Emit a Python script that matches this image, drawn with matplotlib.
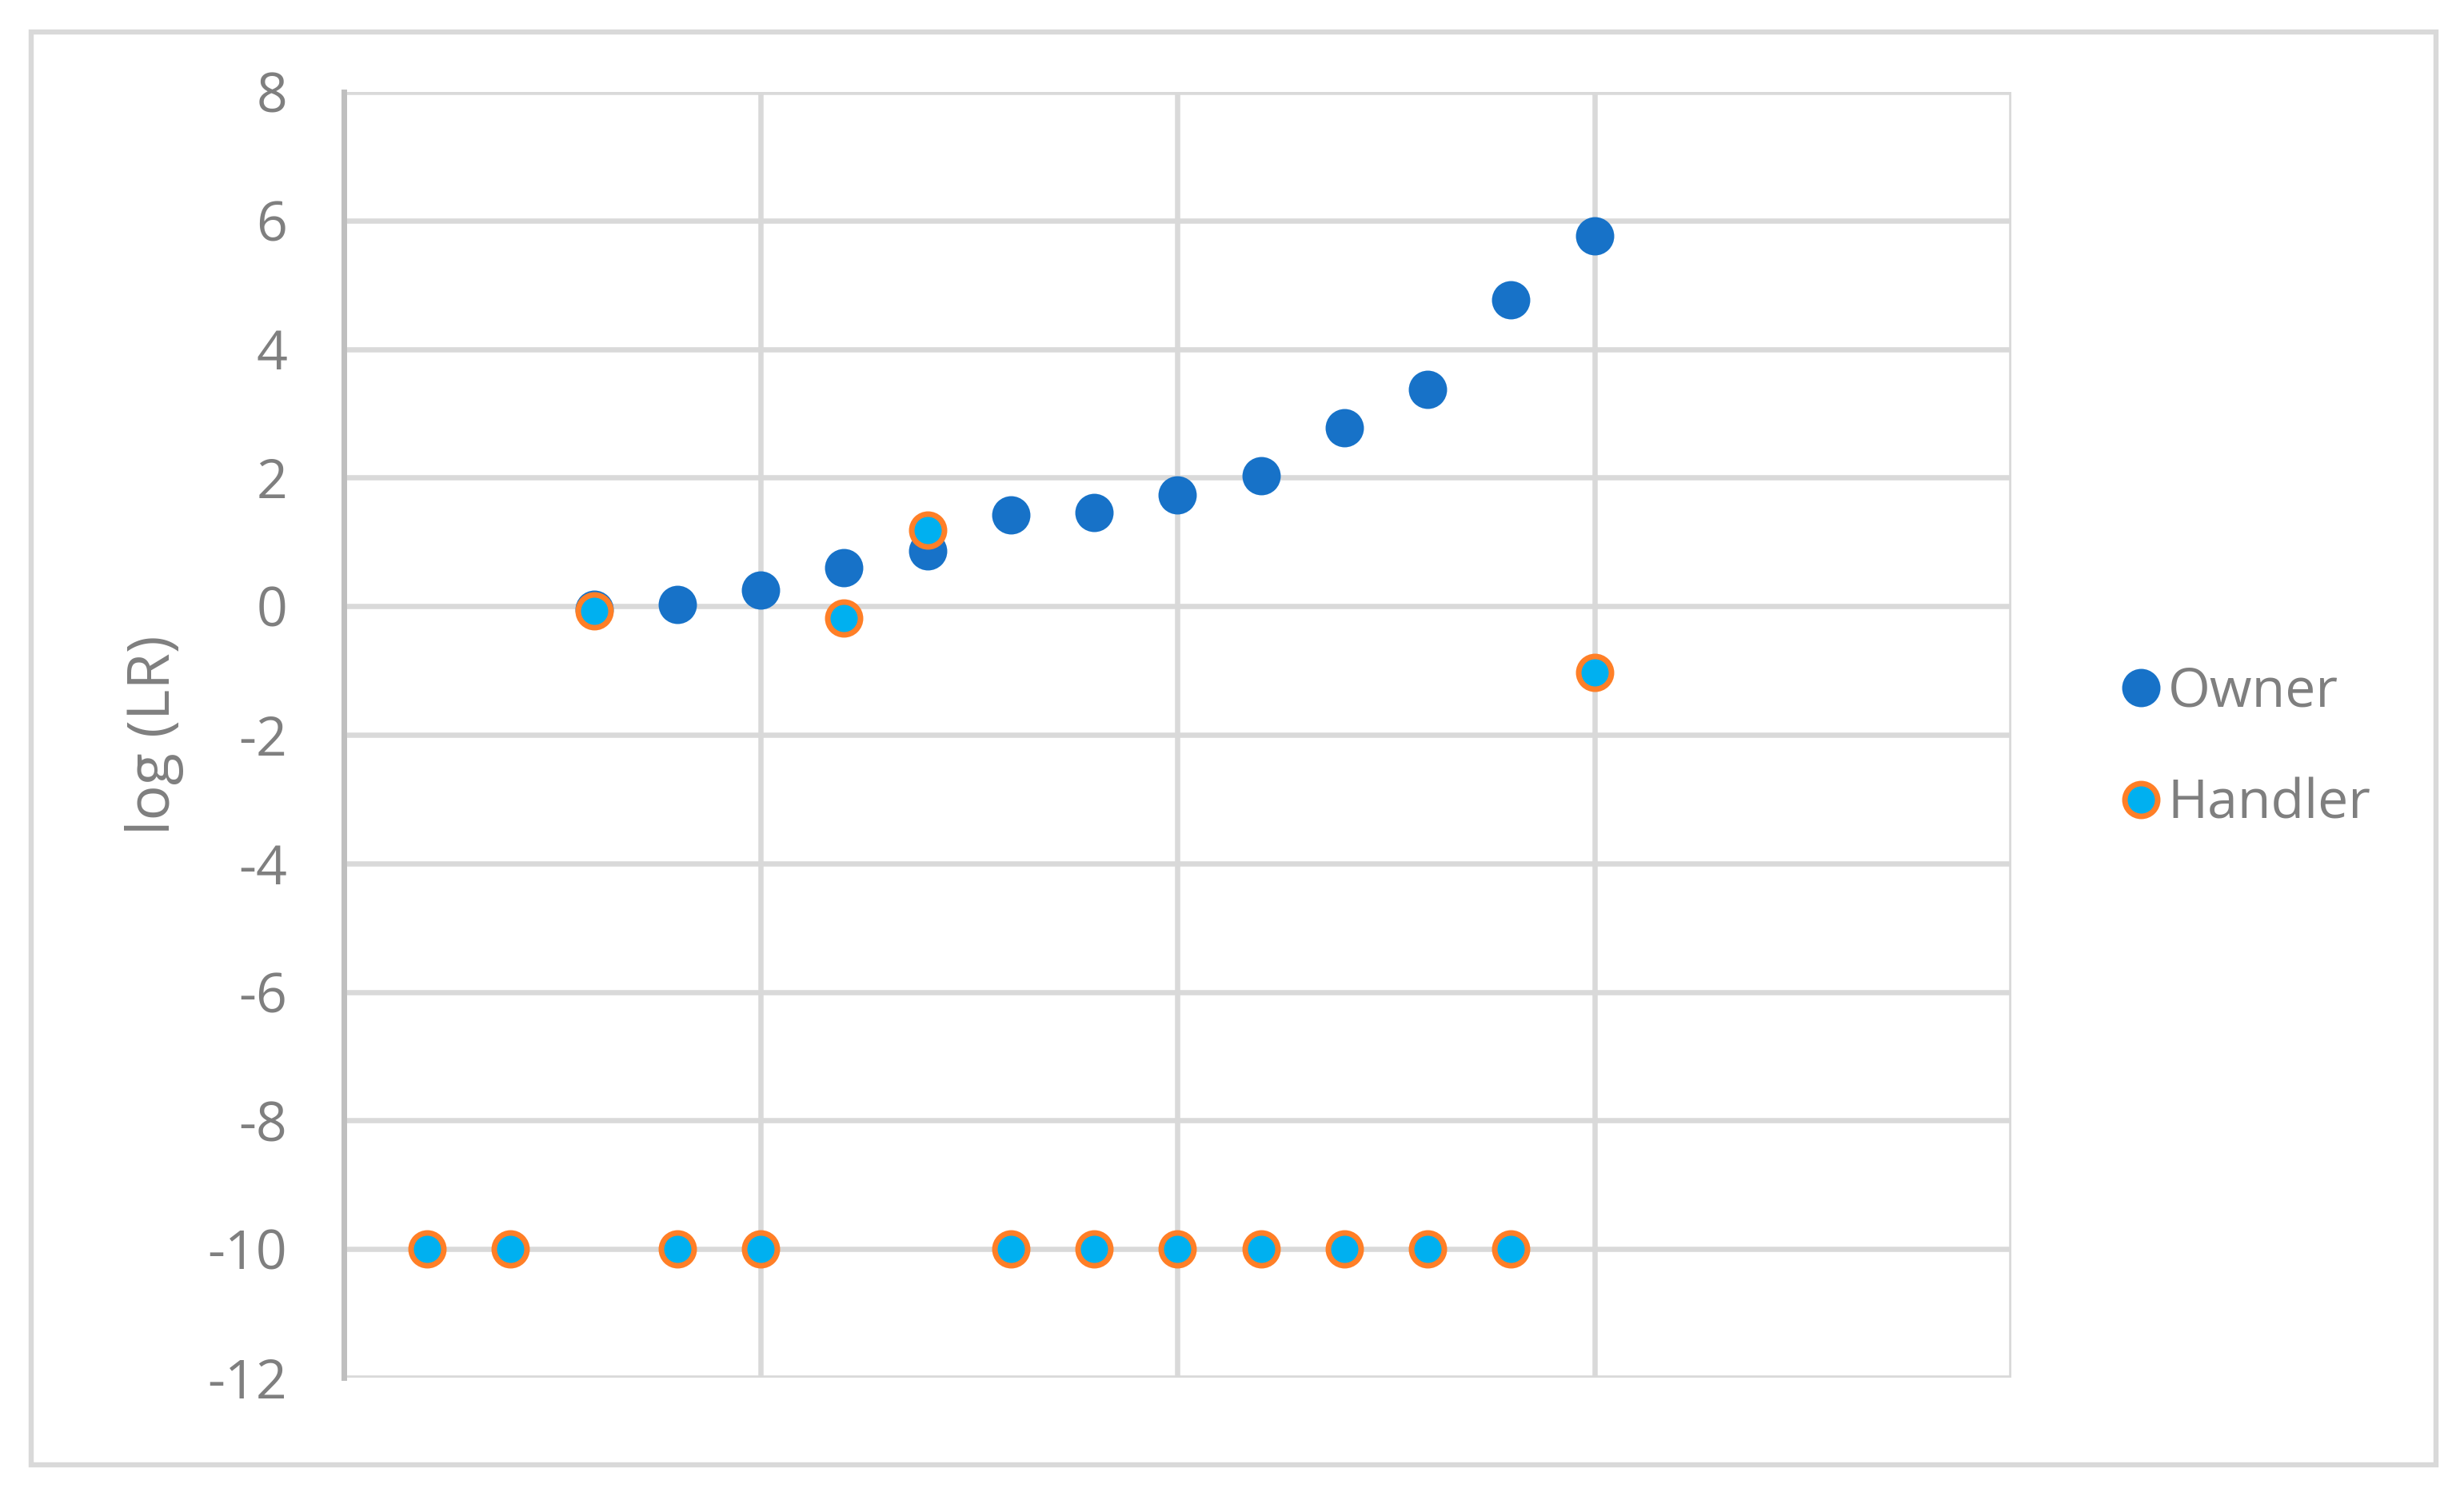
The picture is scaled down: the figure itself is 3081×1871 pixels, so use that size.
import numpy as np
import matplotlib
matplotlib.use("Agg")
import matplotlib.pyplot as plt
from matplotlib.patches import Rectangle

plt.rcParams['font.family'] = ['Open Sans', 'DejaVu Sans']

# Data
x_index = [1, 2, 3, 4, 5, 6, 7, 8, 9, 10, 11, 12, 13, 14, 15]
owner = [np.nan, np.nan, -0.05, 0.03, 0.25, 0.60, 0.86, 1.42, 1.46, 1.73, 2.03, 2.78, 3.37, 4.76, 5.76]
handler = [-10, -10, -0.07, -10, -10, -0.18, 1.18, -10, -10, -10, -10, -10, -10, -10, -1.03]
y_ticks = [-12, -10, -8, -6, -4, -2, 0, 2, 4, 6, 8]
x_grid = [0, 5, 10, 15, 20]

W, H = 3081, 1871
fig = plt.figure(figsize=(W / 100, H / 100), dpi=100)
fig.patch.set_facecolor('white')

# outer chart border
fig.patches.append(Rectangle((39 / W, 1 - 1832 / H), (3046 - 39) / W, (1832 - 40) / H,
                             transform=fig.transFigure, fill=False,
                             edgecolor='#D9D9D9', linewidth=4.6))

ax = fig.add_axes([430 / W, 1 - 1723 / H, 2085 / W, 1608 / H])
grid_c = '#D9D9D9'
text_c = '#7F7F7F'

ax.set_xlim(0, 20)
ax.set_ylim(-12, 8)
ax.set_xticks(x_grid)
ax.set_yticks(y_ticks)
ax.set_xticklabels([])
ax.set_yticklabels([str(t) for t in y_ticks])
ax.tick_params(axis='both', length=0)
ax.tick_params(axis='y', labelsize=49, labelcolor=text_c, pad=51)
ax.grid(True, color=grid_c, linewidth=4.7)
ax.set_axisbelow(True)
for s in ['top', 'right', 'bottom']:
    ax.spines[s].set_visible(False)
ax.spines['left'].set_color('#BFBFBF')
ax.spines['left'].set_linewidth(5)

ax.set_ylabel('log (LR)', fontsize=53, color=text_c, labelpad=21)

ax.plot(x_index, owner, linestyle='none', marker='o', markersize=34.5,
        markerfacecolor='#1772C8', markeredgewidth=0, label='Owner', zorder=3)
ax.plot(x_index, handler, linestyle='none', marker='o', markersize=29.5,
        markerfacecolor='#00B0F0', markeredgecolor='#FF7F27', markeredgewidth=5,
        label='Handler', zorder=4)

leg = fig.legend(loc='center left', bbox_to_anchor=(2646 / W, 1 - 936 / H),
                 frameon=False, fontsize=49, labelcolor=text_c,
                 handletextpad=0.05, labelspacing=1.06, handlelength=0.9,
                 borderaxespad=0, borderpad=0)

fig.savefig('out.png', dpi=100, facecolor='white')
